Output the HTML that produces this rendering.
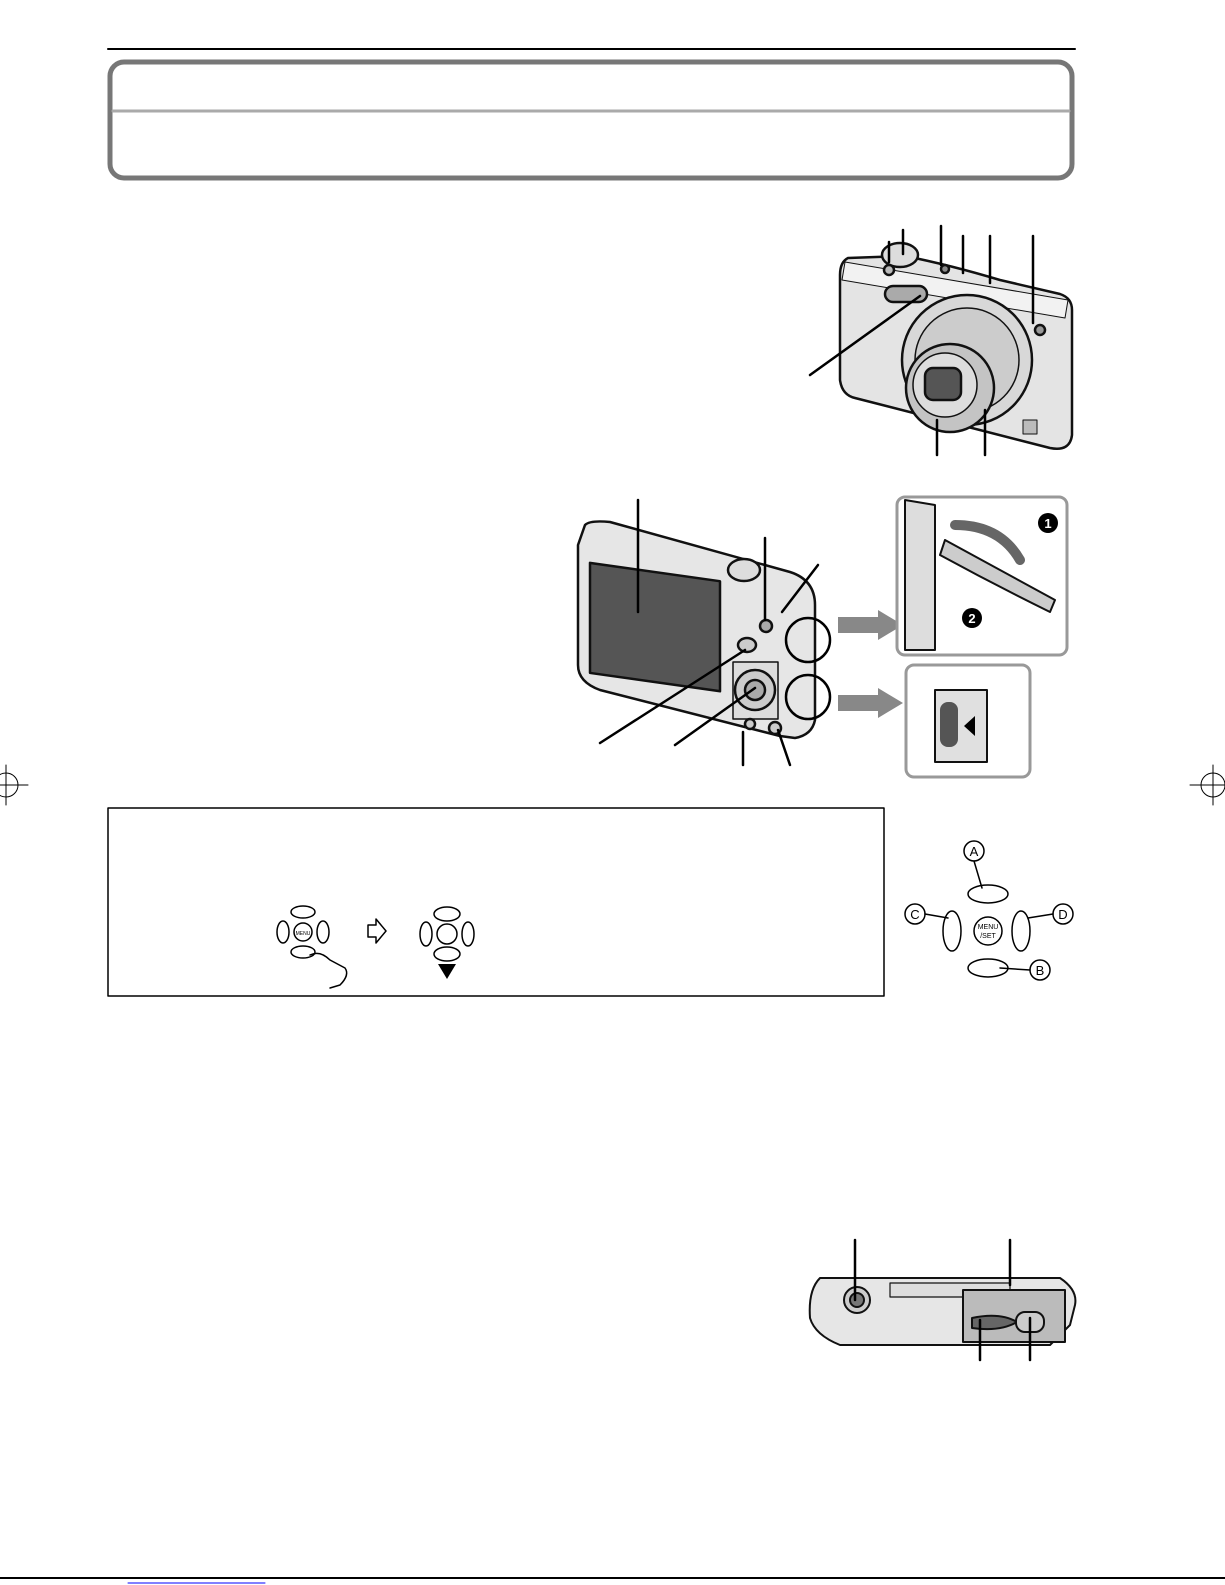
<!DOCTYPE html>
<html><head><meta charset="utf-8"><style>
html,body{margin:0;padding:0;background:#fff}
svg{display:block}
text{font-family:"Liberation Sans",sans-serif}
</style></head><body>
<svg width="1225" height="1585" viewBox="0 0 1225 1585" xmlns="http://www.w3.org/2000/svg" stroke-linecap="round" stroke-linejoin="round">
<!-- header -->
<line x1="108" y1="49" x2="1075" y2="49" stroke="#000" stroke-width="2"/>
<rect x="110" y="62" width="962" height="116" rx="14" fill="#fff" stroke="#777" stroke-width="5"/>
<line x1="113" y1="111" x2="1069" y2="111" stroke="#aaa" stroke-width="3"/>
<!-- crop marks -->
<circle cx="6" cy="785" r="12" fill="none" stroke="#000"/><line x1="0" y1="785" x2="28" y2="785" stroke="#000"/><line x1="6" y1="765" x2="6" y2="805" stroke="#000"/>
<circle cx="1213" cy="785" r="12" fill="none" stroke="#000"/><line x1="1190" y1="785" x2="1225" y2="785" stroke="#000"/><line x1="1213" y1="765" x2="1213" y2="805" stroke="#000"/>

<!-- front camera -->
<g stroke="#111" stroke-width="2.5">
<path d="M848 258 Q840 262 840 275 L840 380 Q842 395 855 398 L1050 448 Q1070 452 1072 435 L1072 310 Q1072 298 1060 294 L1000 280 Q950 265 905 256 Z" fill="#e4e4e4"/>
<path d="M845 262 L1068 300 L1065 318 L842 280 Z" fill="#f2f2f2" stroke-width="1"/>
<ellipse cx="900" cy="255" rx="18" ry="12" fill="#ddd"/>
<circle cx="889" cy="270" r="5" fill="#bbb"/>
<rect x="885" y="286" width="42" height="16" rx="8" fill="#aaa"/>
<circle cx="967" cy="360" r="65" fill="#d8d8d8"/>
<circle cx="967" cy="360" r="52" fill="#ccc" stroke-width="1.5"/>
<circle cx="950" cy="388" r="44" fill="#c4c4c4"/>
<circle cx="945" cy="385" r="32" fill="#ddd" stroke-width="1.5"/>
<rect x="925" y="368" width="36" height="32" rx="8" fill="#555"/>
<circle cx="1040" cy="330" r="5" fill="#999"/>
<rect x="1023" y="420" width="14" height="14" fill="#bbb" stroke-width="1"/>
<circle cx="945" cy="269" r="4" fill="#888"/>
</g>
<g stroke="#000" stroke-width="2.5">
<line x1="889" y1="242" x2="889" y2="262"/><line x1="903" y1="230" x2="903" y2="254"/>
<line x1="941" y1="226" x2="941" y2="265"/><line x1="963" y1="236" x2="963" y2="273"/>
<line x1="990" y1="236" x2="990" y2="283"/><line x1="1033" y1="236" x2="1033" y2="323"/>
<line x1="810" y1="375" x2="920" y2="296"/>
<line x1="937" y1="420" x2="937" y2="455"/><line x1="985" y1="410" x2="985" y2="455"/>
</g>

<!-- back camera -->
<g stroke="#111" stroke-width="2.5">
<path d="M585 525 Q590 520 610 522 L790 572 Q815 580 815 605 L815 720 Q812 735 795 738 L780 736 L600 690 Q578 682 578 665 L578 545 Z" fill="#e6e6e6"/>
<rect x="590" y="565" width="130" height="110" fill="#555" transform="skewY(8) translate(0,-85)"/>
<ellipse cx="744" cy="570" rx="16" ry="11" fill="#ddd"/>
<circle cx="766" cy="626" r="6" fill="#aaa"/>
<ellipse cx="747" cy="645" rx="9" ry="7" fill="#ccc"/>
<rect x="733" y="662" width="45" height="57" fill="#ddd" stroke-width="1.5"/>
<circle cx="755" cy="690" r="20" fill="#ccc"/>
<circle cx="755" cy="690" r="10" fill="#aaa"/>
<circle cx="750" cy="724" r="5" fill="#ccc"/>
<circle cx="775" cy="728" r="6" fill="#ccc"/>
</g>
<g fill="none" stroke="#000" stroke-width="2.5">
<circle cx="808" cy="640" r="22"/><circle cx="808" cy="697" r="22"/>
<line x1="638" y1="500" x2="638" y2="612"/><line x1="765" y1="538" x2="765" y2="620"/>
<line x1="818" y1="565" x2="782" y2="612"/>
<line x1="600" y1="743" x2="745" y2="650"/><line x1="675" y1="745" x2="755" y2="688"/>
<line x1="743" y1="732" x2="743" y2="765"/><line x1="790" y1="765" x2="778" y2="730"/>
</g>
<path d="M838 617 L878 617 L878 610 L903 625 L878 640 L878 633 L838 633 Z" fill="#888"/>
<path d="M838 695 L878 695 L878 688 L903 703 L878 718 L878 711 L838 711 Z" fill="#888"/>
<rect x="897" y="497" width="170" height="158" rx="8" fill="#fff" stroke="#999" stroke-width="3"/>
<path d="M905 500 L935 505 L935 650 L905 650 Z" fill="#ddd" stroke="#111" stroke-width="2"/>
<path d="M945 540 Q1000 570 1055 600 L1050 612 Q995 585 940 555 Z" fill="#ccc" stroke="#111" stroke-width="2"/>
<path d="M955 525 Q1000 525 1020 560" fill="none" stroke="#666" stroke-width="10"/>
<circle cx="1048" cy="523" r="10" fill="#000"/><text x="1048" y="528" font-size="13" fill="#fff" text-anchor="middle" font-weight="bold">1</text>
<circle cx="972" cy="618" r="10" fill="#000"/><text x="972" y="623" font-size="13" fill="#fff" text-anchor="middle" font-weight="bold">2</text>
<rect x="906" y="665" width="124" height="112" rx="8" fill="#fff" stroke="#999" stroke-width="3"/>
<rect x="935" y="690" width="52" height="72" fill="#e0e0e0" stroke="#111" stroke-width="2"/>
<rect x="940" y="702" width="18" height="45" rx="8" fill="#555"/>
<path d="M975 716 L964 726 L975 736 Z" fill="#000"/>

<!-- box -->
<rect x="108" y="808" width="776" height="188" fill="#fff" stroke="#000" stroke-width="1.5"/>
<g fill="none" stroke="#000" stroke-width="1.5">
<ellipse cx="303" cy="912" rx="12" ry="6"/><ellipse cx="283" cy="932" rx="6" ry="11"/><ellipse cx="323" cy="932" rx="6" ry="11"/><ellipse cx="303" cy="952" rx="12" ry="6"/><circle cx="303" cy="932" r="9"/>
<path d="M310 955 Q320 950 330 960 L345 968 Q350 975 340 985 L330 988"/>
<path d="M368 925 L376 925 L376 919 L386 931 L376 943 L376 937 L368 937 Z"/>
<ellipse cx="447" cy="914" rx="13" ry="7"/><ellipse cx="426" cy="934" rx="6" ry="12"/><ellipse cx="468" cy="934" rx="6" ry="12"/><ellipse cx="447" cy="954" rx="13" ry="7"/><circle cx="447" cy="934" r="10"/>
</g>
<path d="M438 964 L456 964 L447 979 Z" fill="#000"/>

<!-- control pad -->
<g fill="none" stroke="#000" stroke-width="1.5">
<ellipse cx="988" cy="894" rx="20" ry="9"/><ellipse cx="988" cy="968" rx="20" ry="9"/>
<ellipse cx="952" cy="931" rx="9" ry="20"/><ellipse cx="1021" cy="931" rx="9" ry="20"/>
<circle cx="988" cy="931" r="14"/>
<circle cx="974" cy="851" r="10"/><circle cx="915" cy="914" r="10"/><circle cx="1063" cy="914" r="10"/><circle cx="1040" cy="970" r="10"/>
<line x1="974" y1="861" x2="982" y2="888"/><line x1="925" y1="914" x2="948" y2="918"/>
<line x1="1053" y1="914" x2="1028" y2="918"/><line x1="1030" y1="970" x2="1000" y2="968"/>
</g>
<g font-size="13" text-anchor="middle">
<text x="974" y="856">A</text><text x="915" y="919">C</text><text x="1063" y="919">D</text><text x="1040" y="975">B</text>
<text x="988" y="929" font-size="7">MENU</text><text x="988" y="938" font-size="7">/SET</text>
<text x="303" y="935" font-size="5">MENU</text>
</g>

<!-- bottom camera -->
<g stroke="#111" stroke-width="2">
<path d="M820 1278 L1060 1278 Q1078 1290 1075 1305 L1070 1325 L1050 1345 L840 1345 Q815 1335 810 1318 Q808 1290 820 1278 Z" fill="#e6e6e6"/>
<circle cx="857" cy="1300" r="13" fill="#ccc"/><circle cx="857" cy="1300" r="7" fill="#777"/>
<rect x="890" y="1283" width="120" height="14" fill="#ddd" stroke-width="1.2"/>
<path d="M963 1290 L1065 1290 L1065 1342 L963 1342 Z" fill="#bbb"/>
<path d="M972 1318 Q1000 1312 1017 1322 Q1000 1332 972 1328 Z" fill="#666"/>
<rect x="1016" y="1312" width="28" height="20" rx="9" fill="#ccc"/>
</g>
<g stroke="#000" stroke-width="2.5">
<line x1="855" y1="1240" x2="855" y2="1300"/><line x1="1010" y1="1240" x2="1010" y2="1285"/>
<line x1="980" y1="1320" x2="980" y2="1360"/><line x1="1030" y1="1318" x2="1030" y2="1360"/>
</g>

<line x1="0" y1="1578" x2="1225" y2="1578" stroke="#000" stroke-width="2"/>
<line x1="128" y1="1583" x2="265" y2="1583" stroke="#00f" stroke-width="1"/>
</svg>
</body></html>
